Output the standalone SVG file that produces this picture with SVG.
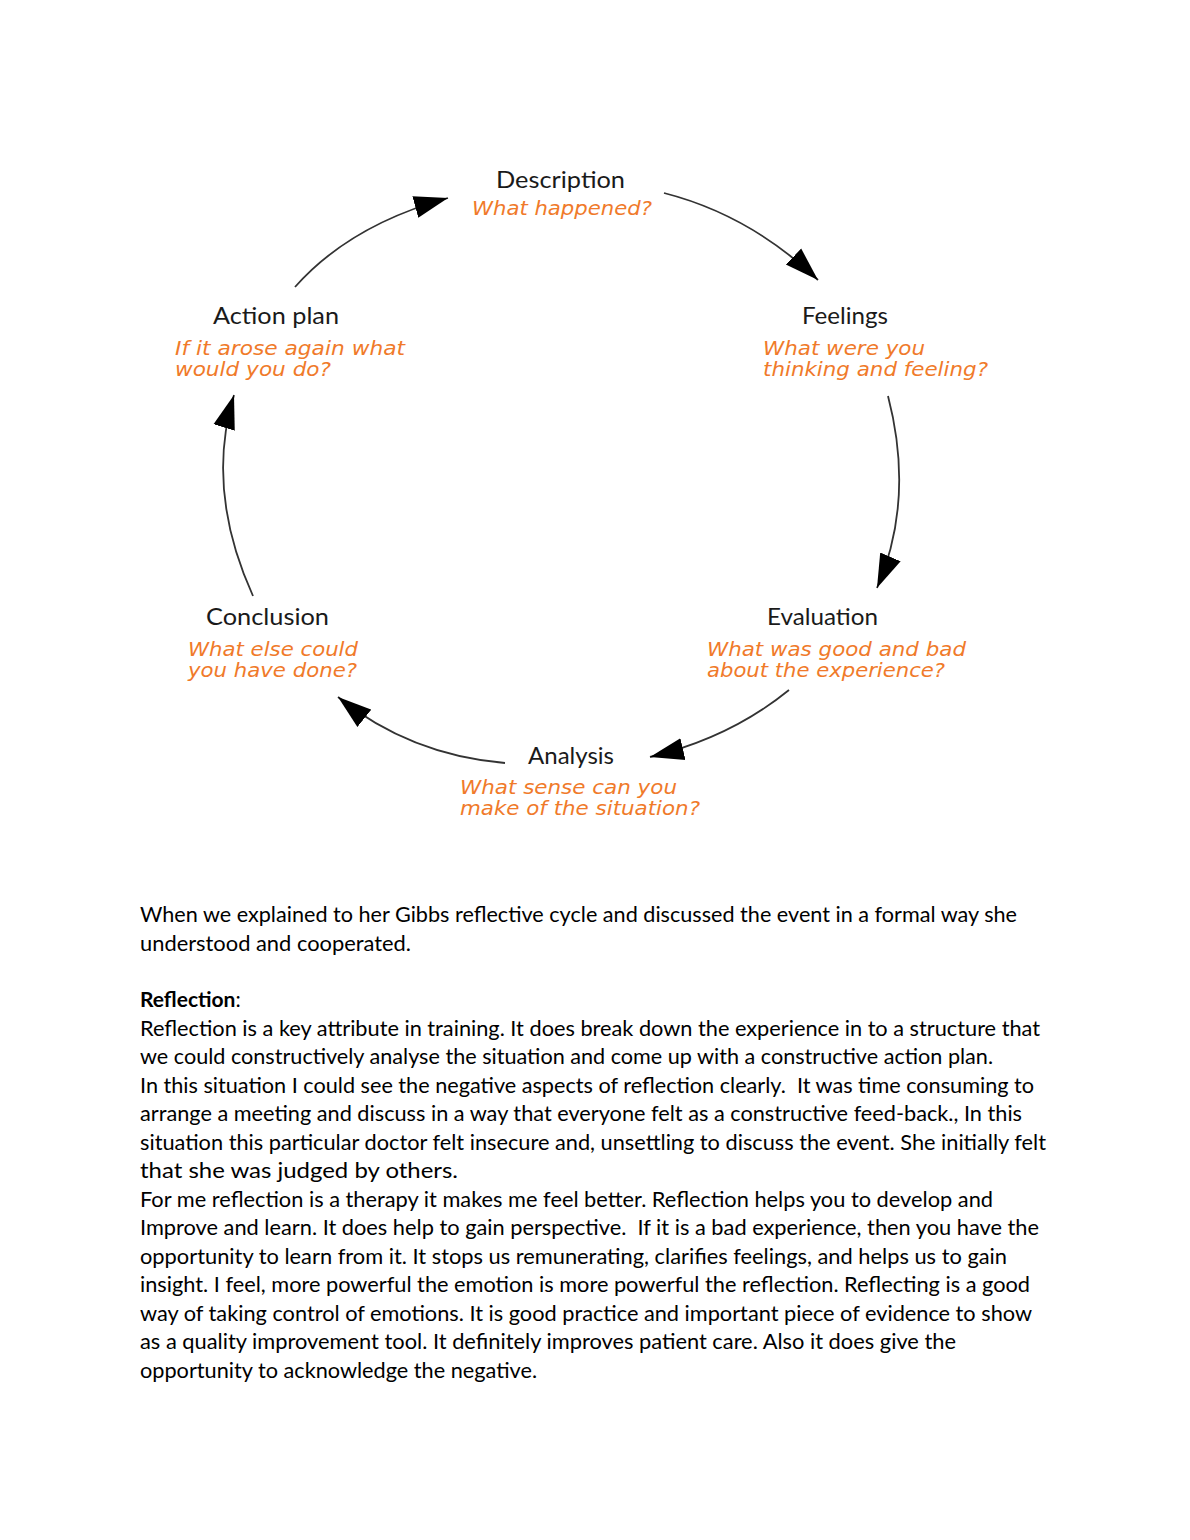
<svg xmlns="http://www.w3.org/2000/svg" width="1190" height="1540" viewBox="0 0 1190 1540">
<style>
.t{font-family:Lato,"Liberation Sans",sans-serif;font-size:24px;fill:#1a1a1a}
.q{font-family:"DejaVu Sans",Verdana,sans-serif;font-style:italic;font-size:20px;fill:#f07a2a}
.p{font-family:Lato,"Liberation Sans",sans-serif;font-size:21px;fill:#000;white-space:pre}
.c{fill:none;stroke:#333;stroke-width:1.8}
</style>
<defs>
<marker id="ah" markerUnits="userSpaceOnUse" markerWidth="36" markerHeight="24" refX="32" refY="10.5" orient="auto" viewBox="0 0 34 21">
<path d="M0,0 L32,10.5 L0,21 Z" fill="#000"/>
</marker>
</defs>
<rect width="1190" height="1540" fill="#fff"/>
<g id="connectors">
<path class="c" d="M295,287 Q350,225 448,198" marker-end="url(#ah)"/>
<path class="c" d="M664,193 Q750,215 818,280" marker-end="url(#ah)"/>
<path class="c" d="M888,396 Q915,500 877,588" marker-end="url(#ah)"/>
<path class="c" d="M789,690 Q730,738 650,757" marker-end="url(#ah)"/>
<path class="c" d="M505,763 Q410,755 338,697" marker-end="url(#ah)"/>
<path class="c" d="M253,596 Q205,490 234,395" marker-end="url(#ah)"/>
</g>
<g id="description">
<text class="t" x="496" y="188" textLength="129" lengthAdjust="spacingAndGlyphs">Description</text>
<text class="q" x="472" y="215" textLength="180" lengthAdjust="spacingAndGlyphs">What happened?</text>
</g>
<g id="feelings">
<text class="t" x="802" y="324" textLength="86" lengthAdjust="spacingAndGlyphs">Feelings</text>
<text class="q" x="763" y="355" textLength="162" lengthAdjust="spacingAndGlyphs">What were you</text>
<text class="q" x="763" y="376" textLength="225" lengthAdjust="spacingAndGlyphs">thinking and feeling?</text>
</g>
<g id="evaluation">
<text class="t" x="767" y="625" textLength="111" lengthAdjust="spacingAndGlyphs">Evaluation</text>
<text class="q" x="707" y="656" textLength="259" lengthAdjust="spacingAndGlyphs">What was good and bad</text>
<text class="q" x="707" y="677" textLength="238" lengthAdjust="spacingAndGlyphs">about the experience?</text>
</g>
<g id="analysis">
<text class="t" x="528" y="764" textLength="86" lengthAdjust="spacingAndGlyphs">Analysis</text>
<text class="q" x="460" y="794" textLength="217" lengthAdjust="spacingAndGlyphs">What sense can you</text>
<text class="q" x="460" y="815" textLength="240" lengthAdjust="spacingAndGlyphs">make of the situation?</text>
</g>
<g id="conclusion">
<text class="t" x="206" y="625" textLength="123" lengthAdjust="spacingAndGlyphs">Conclusion</text>
<text class="q" x="188" y="656" textLength="170" lengthAdjust="spacingAndGlyphs">What else could</text>
<text class="q" x="188" y="677" textLength="169" lengthAdjust="spacingAndGlyphs">you have done?</text>
</g>
<g id="action-plan">
<text class="t" x="213" y="324" textLength="126" lengthAdjust="spacingAndGlyphs">Action plan</text>
<text class="q" x="175" y="355" textLength="230" lengthAdjust="spacingAndGlyphs">If it arose again what</text>
<text class="q" x="175" y="376" textLength="156" lengthAdjust="spacingAndGlyphs">would you do?</text>
</g>
<g id="body">
<text class="p" x="140" y="922" textLength="877" lengthAdjust="spacingAndGlyphs">When we explained to her Gibbs reflective cycle and discussed the event in a formal way she</text>
<text class="p" x="140" y="951" textLength="271" lengthAdjust="spacingAndGlyphs">understood and cooperated.</text>
<text class="p" x="140" y="1007"><tspan font-weight="bold">Reflection</tspan>:</text>
<text class="p" x="140" y="1036" textLength="900" lengthAdjust="spacingAndGlyphs">Reflection is a key attribute in training. It does break down the experience in to a structure that</text>
<text class="p" x="140" y="1064" textLength="853" lengthAdjust="spacingAndGlyphs">we could constructively analyse the situation and come up with a constructive action plan.</text>
<text class="p" x="140" y="1093" textLength="894" lengthAdjust="spacingAndGlyphs">In this situation I could see the negative aspects of reflection clearly.  It was time consuming to</text>
<text class="p" x="140" y="1121" textLength="882" lengthAdjust="spacingAndGlyphs">arrange a meeting and discuss in a way that everyone felt as a constructive feed-back., In this</text>
<text class="p" x="140" y="1150" textLength="906" lengthAdjust="spacingAndGlyphs">situation this particular doctor felt insecure and, unsettling to discuss the event. She initially felt</text>
<text class="p" x="140" y="1178" textLength="318" lengthAdjust="spacingAndGlyphs">that she was judged by others.</text>
<text class="p" x="140" y="1207" textLength="853" lengthAdjust="spacingAndGlyphs">For me reflection is a therapy it makes me feel better. Reflection helps you to develop and</text>
<text class="p" x="140" y="1235" textLength="899" lengthAdjust="spacingAndGlyphs">Improve and learn. It does help to gain perspective.  If it is a bad experience, then you have the</text>
<text class="p" x="140" y="1264" textLength="867" lengthAdjust="spacingAndGlyphs">opportunity to learn from it. It stops us remunerating, clarifies feelings, and helps us to gain</text>
<text class="p" x="140" y="1292" textLength="890" lengthAdjust="spacingAndGlyphs">insight. I feel, more powerful the emotion is more powerful the reflection. Reflecting is a good</text>
<text class="p" x="140" y="1321" textLength="892" lengthAdjust="spacingAndGlyphs">way of taking control of emotions. It is good practice and important piece of evidence to show</text>
<text class="p" x="140" y="1349" textLength="816" lengthAdjust="spacingAndGlyphs">as a quality improvement tool. It definitely improves patient care. Also it does give the</text>
<text class="p" x="140" y="1378" textLength="397" lengthAdjust="spacingAndGlyphs">opportunity to acknowledge the negative.</text>
</g>
</svg>
